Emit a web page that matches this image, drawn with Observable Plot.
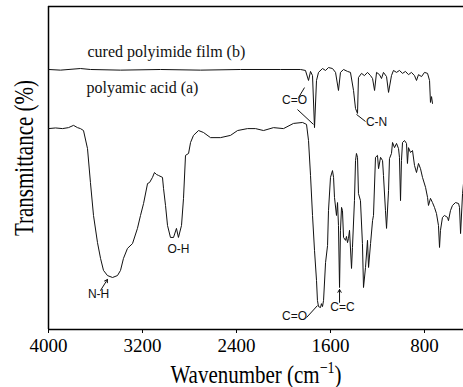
<!DOCTYPE html>
<html><head><meta charset="utf-8">
<script src="https://cdn.jsdelivr.net/npm/d3@7"></script>
<script src="https://cdn.jsdelivr.net/npm/@observablehq/plot@0.6"></script>
<style>html,body{margin:0;padding:0;background:#fff;}</style>
</head><body><div id="chart"></div>
<script>
const xTicks = [4000, 3200, 2400, 1600, 800];

// polyamic acid (a)
const waveA = [4000,3940,3881,3830,3787,3753,3728,3702,3668,3643,3617,3583,3557,3532,3498,3455,3413,3387,3362,3328,3285,3243,3217,3191,3157,3140,3115,3098,3081,3064,3030,3021,3004,2987,2962,2936,2911,2894,2868,2851,2834,2808,2791,2766,2723,2681,2621,2536,2451,2391,2306,2238,2170,2085,2000,1915,1838,1804,1787,1770,1753,1736,1719,1711,1702,1685,1677,1668,1659,1642,1625,1617,1600,1583,1574,1566,1549,1540,1532,1523,1515,1506,1498,1489,1472,1464,1455,1447,1438,1421,1413,1396,1387,1379,1370,1362,1345,1328,1319,1302,1285,1276,1259,1242,1234,1217,1200,1191,1174,1157,1149,1132,1123,1106,1098,1081,1072,1055,1038,1021,1013,1004,996,987,970,953,945,936,919,902,885,868,851,834,817,791,774,766,749,732,715,698,681,672,664,647,630,604,596,579,562,536,510,502,493,476,468];
const transA = [62.2,62.4,62.2,62.5,63.2,62.5,62.2,61.6,56.0,45.5,35.3,26.9,22.0,18.3,16.7,16.1,16.7,18.3,22.0,25.1,26.6,31.3,35.3,39.0,45.2,45.5,47.1,48.6,48.0,47.7,47.1,43.7,38.4,32.2,28.5,28.5,31.3,28.5,32.2,40.6,53.9,54.5,57.9,60.1,61.6,61.0,59.4,59.4,60.1,61.6,62.2,62.2,61.6,62.5,62.2,63.8,64.1,63.5,58.5,47.7,35.3,24.5,15.2,9.0,7.1,6.8,8.0,7.1,9.0,20.7,26.0,36.8,47.1,49.2,47.1,40.9,35.3,39.3,32.2,13.0,30.7,37.8,36.8,28.5,27.6,28.8,26.9,28.2,30.7,18.9,25.4,39.9,52.3,54.5,53.3,42.1,39.9,26.6,13.0,19.2,27.6,19.2,26.6,33.7,35.3,53.3,53.9,49.8,53.3,52.3,47.7,36.8,31.3,43.0,52.9,54.5,57.9,56.3,57.6,56.0,53.3,39.9,52.3,57.9,58.5,57.6,51.4,56.3,54.8,55.4,50.8,48.6,51.4,49.8,47.1,44.0,40.9,38.4,40.6,39.3,37.8,35.9,32.2,25.4,30.7,34.7,35.3,34.7,33.7,36.8,38.4,39.3,39.0,37.8,29.7,42.1,45.2];

// cured polyimide film (b)
const waveB = [4000,3898,3728,3643,3387,3047,2706,2366,2025,1855,1813,1787,1770,1753,1736,1719,1702,1668,1642,1617,1583,1557,1532,1515,1489,1455,1430,1404,1387,1370,1362,1336,1311,1285,1259,1242,1225,1208,1183,1166,1149,1123,1106,1081,1064,1038,1013,987,962,936,911,885,868,851,825,800,774,757,749,740,732];
const transB = [80.5,80.3,80.8,80.5,80.3,80.5,80.3,80.5,80.5,80.5,80.2,77.1,79.9,78.6,62.5,77.1,79.6,80.8,80.2,81.1,80.8,79.6,74.0,79.6,80.5,79.9,79.6,74.0,68.4,66.9,78.0,79.3,78.6,79.6,78.6,77.7,74.0,79.6,78.9,77.7,79.6,78.3,73.4,78.6,80.2,79.6,80.2,79.3,79.9,78.9,79.6,78.6,77.1,78.9,78.3,79.6,79.3,77.1,70.3,72.1,70.0];

// curve names
const curveNames = ["cured polyimide film (b)", "polyamic acid (a)"];
const curveNameWave = [3668, 3677];
const curveNameTrans = [86.1, 74.9];

// band assignments
const bandNames = ["C=O", "C-N", "N-H", "O-H", "C=O", "C=C"];
const bandWave = [1906, 1208, 3574, 2894, 1906, 1498];
const bandTrans = [70.9, 64.1, 10.8, 24.8, 4.0, 6.8];

// leader lines (from, to)
const leadW1 = [1872, 1881, 1379, 1804];
const leadT1 = [71.8, 68.1, 66.6, 3.7];
const leadW2 = [1821, 1745, 1302, 1711];
const leadT2 = [74.9, 63.5, 64.4, 7.4];

// arrows (from, to)
const arrW1 = [3557, 1523];
const arrT1 = [12.1, 8.4];
const arrW2 = [3498, 1523];
const arrT2 = [15.5, 12.4];

const curveA = waveA.map((w, i) => ({w, t: transA[i]}));
const curveB = waveB.map((w, i) => ({w, t: transB[i]}));
const names = curveNames.map((s, i) => ({s, w: curveNameWave[i], t: curveNameTrans[i]}));
const bands = bandNames.map((s, i) => ({s, w: bandWave[i], t: bandTrans[i]}));
const leads = leadW1.map((w, i) => ({x1: w, y1: leadT1[i], x2: leadW2[i], y2: leadT2[i]}));
const arrs = arrW1.map((w, i) => ({x1: w, y1: arrT1[i], x2: arrW2[i], y2: arrT2[i]}));

const serif = "'Liberation Serif', 'Times New Roman', serif";
const sans = "'Liberation Sans', Arial, sans-serif";

const plot = Plot.plot({
  width: 463, height: 387,
  marginLeft: 48, marginRight: 0, marginTop: 6, marginBottom: 58,
  x: {domain: [4000, 468], label: null},
  y: {domain: [0, 100], axis: null},
  style: {fontFamily: serif, background: "white", color: "#000"},
  marks: [
    Plot.ruleY([0, 100], {stroke: "#000", strokeWidth: 1.5}),
    Plot.ruleX([4000], {stroke: "#000", strokeWidth: 1.5}),
    Plot.axisX({ticks: xTicks, tickSize: 4, tickPadding: 5, tickFormat: "d", fontSize: 19, fontFamily: serif, label: null}),
    Plot.line(curveA, {x: "w", y: "t", stroke: "#111", strokeWidth: 1}),
    Plot.line(curveB, {x: "w", y: "t", stroke: "#111", strokeWidth: 1}),
    Plot.text(names, {x: "w", y: "t", text: "s", textAnchor: "start", lineAnchor: "middle", fontSize: 16, fontFamily: serif, fill: "#111"}),
    Plot.text(bands, {x: "w", y: "t", text: "s", lineAnchor: "middle", fontSize: 12, fontFamily: sans, fill: "#111"}),
    Plot.link(leads, {x1: "x1", y1: "y1", x2: "x2", y2: "y2", stroke: "#111", strokeWidth: 1}),
    Plot.arrow(arrs, {x1: "x1", y1: "y1", x2: "x2", y2: "y2", stroke: "#111", strokeWidth: 1, headLength: 5}),
    Plot.text(["Transmittance (%)"], {frameAnchor: "left", textAnchor: "middle", rotate: -90, dx: -24, dy: -10, lineAnchor: "middle", fontSize: 21, fontFamily: serif, fill: "#000"}),
    Plot.text(["Wavenumber (cm-1)"], {frameAnchor: "bottom", textAnchor: "middle", dy: 53, lineAnchor: "bottom", fontSize: 21, fontFamily: serif, fill: "#000"})
  ]
});

const svg = d3.select(plot);
svg.selectAll("text").filter(function () { return this.textContent === "Wavenumber (cm-1)"; }).each(function () {
  const t = d3.select(this);
  t.text(null);
  t.append("tspan").text("Wavenumber (cm");
  t.append("tspan").attr("dy", -8).attr("font-size", 14).text("\u22121");
  t.append("tspan").attr("dy", 8).text(")");
  t.attr("transform", (t.attr("transform") || "") + " scale(1,1.22)");
});
svg.selectAll("text").filter(function () { return this.textContent === "Transmittance (%)"; }).each(function () {
  const t = d3.select(this);
  t.attr("transform", (t.attr("transform") || "") + " scale(1,1.25)");
});

document.getElementById("chart").appendChild(plot);
</script>
</body></html>
